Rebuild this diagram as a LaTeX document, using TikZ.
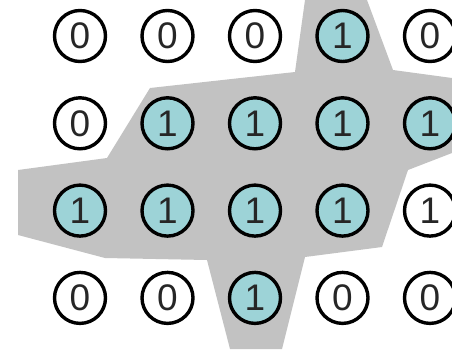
\documentclass[tikz,border=0pt]{standalone}
\usepackage{fontspec}
\setmainfont{Liberation Sans}
\usetikzlibrary{positioning}
\definecolor{regiongray}{HTML}{C2C2C2}
\definecolor{cellteal}{HTML}{9DD3D7}
\tikzset{
  cell/.style={circle, draw=black, line width=3.4pt, minimum size=51pt,
               inner sep=0pt, font=\fontsize{37}{37}\selectfont, text=black!85},
  lit/.style={fill=cellteal},
  unlit/.style={fill=white},
  region/.style={fill=regiongray, draw=none},
}

\begin{document}
\begin{tikzpicture}[x=1pt,y=-1pt]
  \useasboundingbox (0,0) rectangle (452,349);
  \clip (0,0) rectangle (452,349);
  % connected region behind the cells
  \fill[region] (305,0) -- (367,0) -- (393,70) -- (452,78) -- (452,153)
    -- (408,170) -- (382,247) -- (305,257) -- (282,349) -- (230,349)
    -- (207,260) -- (105,258) -- (18,235) -- (18,170) -- (107,158)
    -- (150,88) -- (295,72) -- cycle;
  % grid of cells
  \foreach \cells [count=\r] in {
      {0/unlit,0/unlit,0/unlit,1/lit,0/unlit},
      {0/unlit,1/lit,1/lit,1/lit,1/lit},
      {1/lit,1/lit,1/lit,1/lit,1/unlit},
      {0/unlit,0/unlit,1/lit,0/unlit,0/unlit}}
    \foreach \v/\s [count=\c] in \cells
      \node[cell, \s] (cell-\r-\c) at ({80+87.5*(\c-1)}, {36+87.3*(\r-1)}) {\v};
\end{tikzpicture}
\end{document}
